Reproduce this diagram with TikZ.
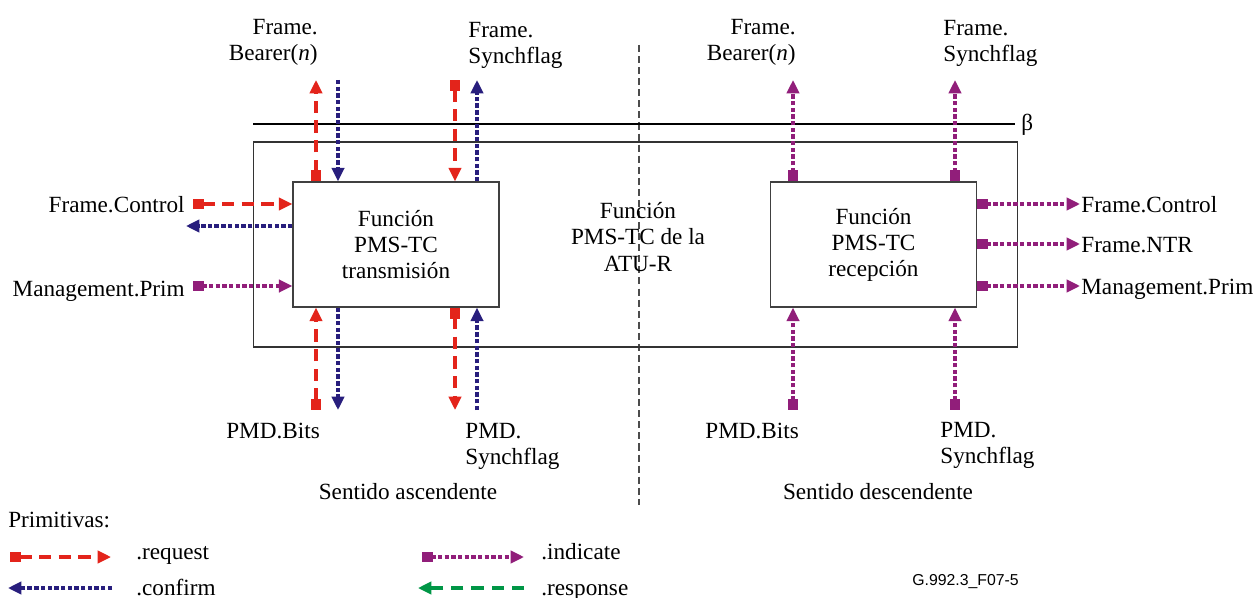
\documentclass[tikz,border=0pt]{standalone}
\usepackage{fontspec}
\setmainfont{Liberation Serif}
\newfontfamily\figsans{Liberation Sans}
\usetikzlibrary{arrows.meta}
\definecolor{reqc}{RGB}{227,36,27}
\definecolor{cnfc}{RGB}{40,30,125}
\definecolor{indc}{RGB}{145,30,122}
\definecolor{rspc}{RGB}{0,150,70}
\tikzset{
  lbl/.style={font=\fontsize{13.2}{14.8}\selectfont, inner sep=0pt},
  func/.style={draw=black!75, line width=0.8pt, align=center, inner sep=0pt,
    minimum width=4.12cm, minimum height=2.5cm,
    font=\fontsize{13.2}{14.8}\selectfont},
  frame/.style={draw=black!80, line width=0.6pt, inner sep=0pt,
    minimum width=15.3cm, minimum height=4.1cm},
  sq/.tip={Square[length=6.2pt,width=6.2pt]},
  tri/.tip={Triangle[length=7.6pt,width=7pt]},
  reqline/.style={draw=reqc, line width=1.75pt, dash pattern=on 7pt off 4.2pt},
  cnfline/.style={draw=cnfc, line width=1.8pt, dash pattern=on 2.5pt off 1.3pt},
  indline/.style={draw=indc, line width=1.8pt, dash pattern=on 2.5pt off 1.3pt},
  rspline/.style={draw=rspc, line width=1.75pt, dash pattern=on 7pt off 4.5pt},
}
\begin{document}
\begin{tikzpicture}[x=0.02cm, y=-0.02cm]
\useasboundingbox (0,0) rectangle (1254,598);

% separator between the two directions
\draw[black!70, line width=0.6pt, dash pattern=on 4pt off 2.3pt] (639,45) -- (639,505);

% reference point beta and the ATU-R function
\coordinate (b0) at (253,124);
\coordinate (b1) at (1015,124);
\draw[line width=0.6pt] (b0) -- (b1);
\node[lbl, anchor=west] (beta) at (1021,125) {β};
\node[frame] (atur) at (635.5,244.5) {};
\node[lbl, align=center, anchor=base] (aturtxt) at (638,271) {Función\\PMS-TC de la\\ATU-R};

% transmit and receive functions
\node[func, fill=white] (tx) at (396,244.5) {Función\\PMS-TC\\transmisión};
\node[func, fill=white] (rx) at (873.5,244.5) {Función\\PMS-TC\\recepción};

% ---------- upstream (transmit) side ----------
\coordinate (t1) at (316,80);
\coordinate (t2) at (338,80);
\coordinate (t3) at (455,80);
\coordinate (t4) at (477,80);
\draw[reqline, {sq}-{tri}] (tx.north -| t1) -- (t1);
\draw[cnfline, -{tri}] (t2) -- (tx.north -| t2);
\draw[reqline, {sq}-{tri}] (t3) -- (tx.north -| t3);
\draw[cnfline, -{tri}] (tx.north -| t4) -- (t4);

\coordinate (u1) at (316,410);
\coordinate (u2) at (338,410);
\coordinate (u3) at (455,410);
\coordinate (u4) at (477,410);
\draw[reqline, {sq}-{tri}] (u1) -- (tx.south -| u1);
\draw[cnfline, -{tri}] (tx.south -| u2) -- (u2);
\draw[reqline, {sq}-{tri}] (tx.south -| u3) -- (u3);
\draw[cnfline, -{tri}] (u4) -- (tx.south -| u4);

\coordinate (l1) at (193,204);
\coordinate (l2) at (186,226);
\coordinate (l3) at (193,286);
\draw[reqline, {sq}-{tri}] (l1) -- (tx.west |- l1);
\draw[cnfline, -{tri}] (tx.west |- l2) -- (l2);
\draw[indline, {sq}-{tri}] (l3) -- (tx.west |- l3);

\node[lbl, align=right, anchor=base east] (txbear) at (318,61) {Frame.\\Bearer(\textit{n})};
\node[lbl, align=left, anchor=base west] (txsync) at (468,64) {Frame.\\Synchflag};
\node[lbl, anchor=base east] (txctrl) at (185,212) {Frame.Control};
\node[lbl, anchor=base east] (txmgmt) at (185,296) {Management.Prim};
\node[lbl, anchor=base west] (txbits) at (226,438) {PMD.Bits};
\node[lbl, align=left, anchor=base west] (txpmds) at (465,464) {PMD.\\Synchflag};
\node[lbl, anchor=base] (asc) at (408,499) {Sentido ascendente};

% ---------- downstream (receive) side ----------
\coordinate (r1) at (793,80);
\coordinate (r2) at (955,80);
\draw[indline, {sq}-{tri}] (rx.north -| r1) -- (r1);
\draw[indline, {sq}-{tri}] (rx.north -| r2) -- (r2);

\coordinate (s1) at (793,410);
\coordinate (s2) at (955,410);
\draw[indline, {sq}-{tri}] (s1) -- (rx.south -| s1);
\draw[indline, {sq}-{tri}] (s2) -- (rx.south -| s2);

\coordinate (e1) at (1080,204);
\coordinate (e2) at (1080,244);
\coordinate (e3) at (1080,286);
\draw[indline, {sq}-{tri}] (rx.east |- e1) -- (e1);
\draw[indline, {sq}-{tri}] (rx.east |- e2) -- (e2);
\draw[indline, {sq}-{tri}] (rx.east |- e3) -- (e3);

\node[lbl, align=right, anchor=base east] (rxbear) at (796,61) {Frame.\\Bearer(\textit{n})};
\node[lbl, align=left, anchor=base west] (rxsync) at (943,62) {Frame.\\Synchflag};
\node[lbl, anchor=base west] (rxctrl) at (1081,212) {Frame.Control};
\node[lbl, anchor=base west] (rxntr) at (1081,252) {Frame.NTR};
\node[lbl, anchor=base west] (rxmgmt) at (1081,294) {Management.Prim};
\node[lbl, anchor=base west] (rxbits) at (705,438) {PMD.Bits};
\node[lbl, align=left, anchor=base west] (rxpmds) at (940,463) {PMD.\\Synchflag};
\node[lbl, anchor=base] (desc) at (878,499) {Sentido descendente};

% ---------- legend ----------
\node[lbl, anchor=base west] (prim) at (8,527) {Primitivas:};
\coordinate (k1a) at (10,557);  \coordinate (k1b) at (111,557);
\coordinate (k2a) at (112,588); \coordinate (k2b) at (8,588);
\coordinate (k3a) at (422,557); \coordinate (k3b) at (524,557);
\coordinate (k4a) at (524,588); \coordinate (k4b) at (418,588);
\draw[reqline, {sq}-{tri}] (k1a) -- (k1b);
\draw[cnfline, -{tri}] (k2a) -- (k2b);
\draw[indline, {sq}-{tri}] (k3a) -- (k3b);
\draw[rspline, -{tri}] (k4a) -- (k4b);
\node[lbl, anchor=base west] (kreq) at (136,559) {.request};
\node[lbl, anchor=base west] (kcnf) at (136,595) {.confirm};
\node[lbl, anchor=base west] (kind) at (541,559) {.indicate};
\node[lbl, anchor=base west] (krsp) at (541,595) {.response};

\node[font=\figsans\fontsize{9}{10}\selectfont, anchor=base west, inner sep=0pt] (figid) at (912,585) {G.992.3\_F07-5};
\end{tikzpicture}
\end{document}
